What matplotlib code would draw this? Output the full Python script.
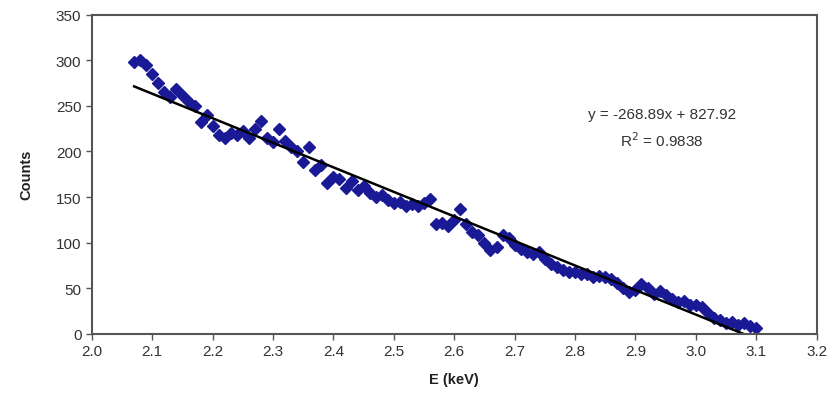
import numpy as np
import matplotlib
matplotlib.use("Agg")
import matplotlib.pyplot as plt

plt.rcParams["font.family"] = ["Liberation Sans", "DejaVu Sans"]

# measured spectrum tail
energy_kev = np.round(np.arange(2.07, 3.105, 0.01), 2)
counts = [
    298, 300, 295, 285, 275, 265, 260, 268, 262, 255,
    250, 232, 240, 228, 218, 215, 220, 218, 222, 215,
    225, 233, 215, 210, 225, 212, 205, 200, 188, 205,
    180, 185, 165, 172, 170, 160, 168, 158, 162, 155,
    150, 152, 147, 143, 145, 140, 142, 140, 143, 148,
    120, 122, 118, 125, 137, 120, 112, 108, 100, 92,
    95, 108, 105, 97, 93, 90, 88, 90, 82, 77,
    73, 70, 68, 68, 66, 66, 62, 63, 62, 60,
    56, 50, 46, 48, 55, 50, 44, 47, 43, 38,
    35, 36, 32, 32, 30, 23, 18, 15, 12, 13,
    10, 12, 9, 7,
]

# linear trendline coefficients
slope = -268.89
intercept = 827.92
r_squared = 0.9838

fig, ax = plt.subplots(figsize=(8.35, 4.1), dpi=100)
fig.subplots_adjust(left=0.110, right=0.978, top=0.962, bottom=0.183)

ax.plot(energy_kev, counts, linestyle="none", marker="D", markersize=6,
        color="#1a1a96", markeredgecolor="#1a1a96")

fit_x = np.array([energy_kev[0], energy_kev[-1]])
ax.plot(fit_x, slope * fit_x + intercept, color="black", linewidth=1.8)

ax.set_xlim(2.0, 3.2)
ax.set_ylim(0, 350)
ax.set_xticks(np.round(np.arange(2.0, 3.21, 0.1), 1))
ax.set_xticklabels([f"{v:.1f}" for v in np.arange(2.0, 3.21, 0.1)])
ax.set_yticks(range(0, 351, 50))

for side in ax.spines.values():
    side.set_color("#555555")
    side.set_linewidth(1.5)
ax.tick_params(colors="#555555", labelcolor="#333333", labelsize=11,
               length=4, width=1)

ax.set_xlabel("E (keV)", fontsize=10.5, fontweight="bold", color="#222222", labelpad=10)
ax.set_ylabel("Counts", fontsize=10.5, fontweight="bold", color="#222222", labelpad=16)

ax.text(2.944, 241, f"y = {slope}x + {intercept}", ha="center", va="center",
        fontsize=11, color="#333333")
ax.text(2.944, 213, f"R$^2$ = {r_squared}", ha="center", va="center",
        fontsize=11, color="#333333")

fig.savefig("out.png")
